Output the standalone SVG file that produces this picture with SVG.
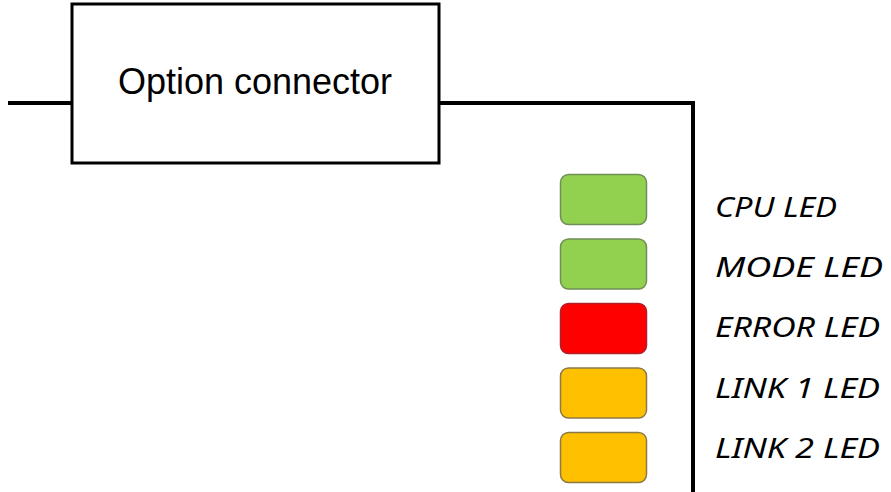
<svg xmlns="http://www.w3.org/2000/svg" width="891" height="492" viewBox="0 0 891 492">
<style>
.wire{fill:none;stroke:#000;stroke-width:4}
.box{fill:#fff;stroke:#000;stroke-width:3}
.title{font-family:"Liberation Sans",Arial,sans-serif;font-size:36px;fill:#000}
.led{stroke-width:1.5}
.green{fill:#92D050;stroke:#6E8F55}
.red{fill:#FF0000;stroke:#B0202A}
.orange{fill:#FFC000;stroke:#8C7A45}
.lbl{font-family:"Noto Sans","DejaVu Sans",sans-serif;font-style:italic;font-size:28px;fill:#000}
</style>
<rect width="891" height="492" fill="#fff"/>
<g id="connectors">
<path class="wire" d="M8 103 H72"/>
<path class="wire" d="M439 103 H693 V492"/>
</g>
<g id="option-connector">
<rect class="box" x="72" y="4" width="367" height="159"/>
<text class="title" x="255" y="94" text-anchor="middle">Option connector</text>
</g>
<g id="cpu-led">
<rect class="led green" x="560.5" y="174.5" width="86" height="50" rx="8"/>
<text class="lbl" x="715" y="217" textLength="122" lengthAdjust="spacingAndGlyphs">CPU LED</text>
</g>
<g id="mode-led">
<rect class="led green" x="560.5" y="239" width="86" height="50" rx="8"/>
<text class="lbl" x="715" y="277" textLength="168" lengthAdjust="spacingAndGlyphs">MODE LED</text>
</g>
<g id="error-led">
<rect class="led red" x="560.5" y="303.5" width="86" height="50" rx="8"/>
<text class="lbl" x="715" y="337" textLength="165" lengthAdjust="spacingAndGlyphs">ERROR LED</text>
</g>
<g id="link1-led">
<rect class="led orange" x="560.5" y="368" width="86" height="50" rx="8"/>
<text class="lbl" x="715" y="398" textLength="165" lengthAdjust="spacingAndGlyphs">LINK 1 LED</text>
</g>
<g id="link2-led">
<rect class="led orange" x="560.5" y="432.5" width="86" height="50" rx="8"/>
<text class="lbl" x="715" y="458" textLength="165" lengthAdjust="spacingAndGlyphs">LINK 2 LED</text>
</g>
</svg>
